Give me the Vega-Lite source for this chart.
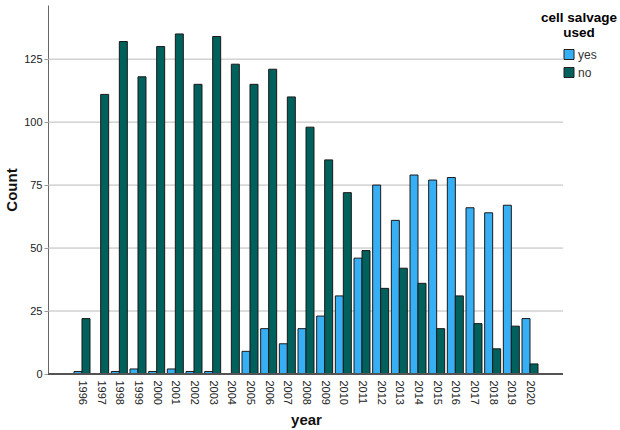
{
  "$schema": "https://vega.github.io/schema/vega-lite/v6.json",
  "autosize": "none",
  "width": 515,
  "height": 369,
  "padding": {"left": 48, "top": 5, "right": 57, "bottom": 56},
  "background": "white",
  "config": {
    "font": "Liberation Sans",
    "view": {"stroke": null},
    "axis": {"labelColor": "#222", "titleColor": "#111", "labelFontSize": 11, "titleFontSize": 15, "titleFontWeight": "bold"}
  },
  "data": {"values": [
    {"year": "1996", "used": "yes", "count": 1}, {"year": "1996", "used": "no", "count": 22},
    {"year": "1997", "used": "yes", "count": 0}, {"year": "1997", "used": "no", "count": 111},
    {"year": "1998", "used": "yes", "count": 1}, {"year": "1998", "used": "no", "count": 132},
    {"year": "1999", "used": "yes", "count": 2}, {"year": "1999", "used": "no", "count": 118},
    {"year": "2000", "used": "yes", "count": 1}, {"year": "2000", "used": "no", "count": 130},
    {"year": "2001", "used": "yes", "count": 2}, {"year": "2001", "used": "no", "count": 135},
    {"year": "2002", "used": "yes", "count": 1}, {"year": "2002", "used": "no", "count": 115},
    {"year": "2003", "used": "yes", "count": 1}, {"year": "2003", "used": "no", "count": 134},
    {"year": "2004", "used": "yes", "count": 0}, {"year": "2004", "used": "no", "count": 123},
    {"year": "2005", "used": "yes", "count": 9}, {"year": "2005", "used": "no", "count": 115},
    {"year": "2006", "used": "yes", "count": 18}, {"year": "2006", "used": "no", "count": 121},
    {"year": "2007", "used": "yes", "count": 12}, {"year": "2007", "used": "no", "count": 110},
    {"year": "2008", "used": "yes", "count": 18}, {"year": "2008", "used": "no", "count": 98},
    {"year": "2009", "used": "yes", "count": 23}, {"year": "2009", "used": "no", "count": 85},
    {"year": "2010", "used": "yes", "count": 31}, {"year": "2010", "used": "no", "count": 72},
    {"year": "2011", "used": "yes", "count": 46}, {"year": "2011", "used": "no", "count": 49},
    {"year": "2012", "used": "yes", "count": 75}, {"year": "2012", "used": "no", "count": 34},
    {"year": "2013", "used": "yes", "count": 61}, {"year": "2013", "used": "no", "count": 42},
    {"year": "2014", "used": "yes", "count": 79}, {"year": "2014", "used": "no", "count": 36},
    {"year": "2015", "used": "yes", "count": 77}, {"year": "2015", "used": "no", "count": 18},
    {"year": "2016", "used": "yes", "count": 78}, {"year": "2016", "used": "no", "count": 31},
    {"year": "2017", "used": "yes", "count": 66}, {"year": "2017", "used": "no", "count": 20},
    {"year": "2018", "used": "yes", "count": 64}, {"year": "2018", "used": "no", "count": 10},
    {"year": "2019", "used": "yes", "count": 67}, {"year": "2019", "used": "no", "count": 19},
    {"year": "2020", "used": "yes", "count": 22}, {"year": "2020", "used": "no", "count": 4}
  ]},
  "layer": [
    {
      "data": {"values": [{"g": 25}, {"g": 50}, {"g": 75}, {"g": 100}, {"g": 125}]},
      "mark": {"type": "rule", "color": "#bbbbbb", "strokeWidth": 1},
      "encoding": {"y": {"field": "g", "type": "quantitative", "title": "Count", "scale": {"domain": [0, 146.5], "nice": false}}}
    },
    {
      "mark": {"type": "bar", "stroke": "#1a1a1a", "strokeWidth": 1},
      "encoding": {
        "x": {
          "field": "year", "type": "nominal", "title": "year",
          "scale": {"paddingInner": 0.143, "paddingOuter": 0, "range": [26, 490]},
          "axis": {"labelAngle": 90, "labelAlign": "left", "labelBaseline": "middle", "ticks": false, "domain": false, "labelPadding": 6, "titlePadding": 8}
        },
        "xOffset": {"field": "used", "type": "nominal", "sort": ["yes", "no"], "scale": {"paddingInner": 0, "paddingOuter": 0}},
        "y": {
          "field": "count", "type": "quantitative", "title": "Count",
          "scale": {"domain": [0, 146.5], "nice": false},
          "axis": {"values": [0, 25, 50, 75, 100, 125], "grid": false, "domainColor": "#666", "ticks": true, "tickSize": 4, "tickColor": "#999", "labelPadding": 2, "titlePadding": 4}
        },
        "color": {
          "field": "used", "type": "nominal", "sort": ["yes", "no"],
          "scale": {"domain": ["yes", "no"], "range": ["#36aff5", "#00605b"]},
          "legend": {
            "title": ["cell salvage", "used"], "orient": "none", "legendX": 493, "legendY": 6,
            "titleFontSize": 13.5, "titleFontWeight": "bold", "titleAlign": "center", "titleAnchor": "middle", "titleLineHeight": 15,
            "symbolType": "square", "symbolSize": 100, "symbolStrokeColor": "#222", "symbolStrokeWidth": 1, "symbolOffset": 2,
            "labelFontSize": 12, "labelColor": "#333", "labelOffset": 3, "rowPadding": 4, "titlePadding": 9, "padding": 0
          }
        }
      }
    },
    {
      "mark": {"type": "rule", "color": "#555", "strokeWidth": 1},
      "encoding": {"y": {"datum": 0}}
    }
  ]
}
